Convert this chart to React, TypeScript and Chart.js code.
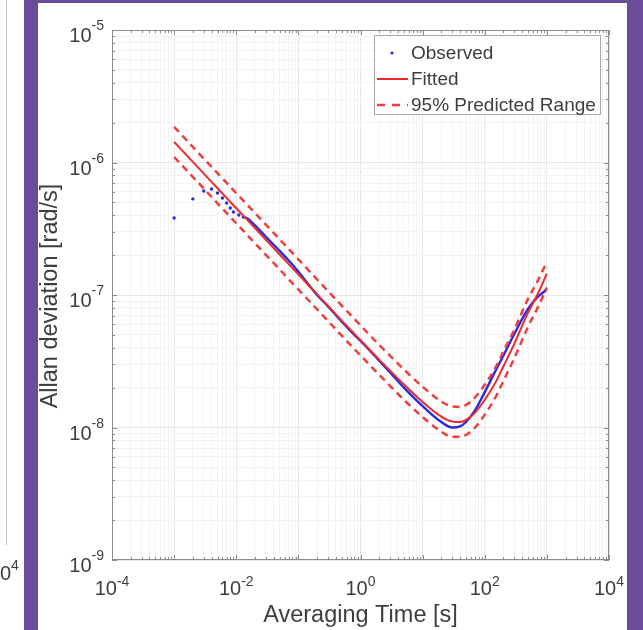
import React, { useEffect, useRef } from 'react';
import { Chart, registerables } from 'chart.js';
Chart.register(...registerables);

const W = 643;
const H = 630;
const PURPLE = '#6b4c9b';
const BOX = '#8c8c8c';
const TEXT = '#3e3e3e';
const BLUE = '#2a2ae0';
const RED = 'rgb(236,42,42)';
const RED_DASH = 'rgb(240,62,62)';
const FONT = '"Liberation Sans", Arial, Helvetica, sans-serif';

// Observed Allan deviation (first 11 samples drawn as separate dots)
const N_DOTS = 11;
const TAU_OBS = [0.001, 0.002, 0.003, 0.004, 0.005, 0.006, 0.007, 0.008, 0.009, 0.011, 0.013,
  0.015, 0.02, 0.03, 0.05, 0.07, 0.1, 0.15, 0.2, 0.3, 0.5, 0.7, 1, 2, 3, 5, 10, 20, 30, 40, 50, 70,
  100, 150, 200, 300, 500, 700, 1000];
const OBSERVED = [3.81e-7, 5.31e-7, 6.1e-7, 6.31e-7, 5.89e-7, 5.4e-7, 4.95e-7, 4.54e-7, 4.23e-7, 4.02e-7, 3.88e-7,
  3.8e-7, 3.35e-7, 2.75e-7, 2.15e-7, 1.82e-7, 1.5e-7, 1.18e-7, 1.0e-7, 8.2e-8, 6.3e-8, 5.3e-8, 4.5e-8, 3.2e-8, 2.6e-8,
  2.0e-8, 1.45e-8, 1.1e-8, 1.0e-8, 1.02e-8, 1.1e-8, 1.35e-8, 1.85e-8, 2.7e-8, 3.5e-8, 5.1e-8, 7.9e-8, 9.6e-8, 1.1e-7];

// Fitted model and 95% prediction range
const TAU_FIT = [0.001, 0.002, 0.005, 0.01, 0.02, 0.05, 0.1, 0.2, 0.5, 1, 2, 5, 10, 20, 30, 40, 50, 70, 100, 150, 200,
  300, 500, 700, 1000];
const FITTED = [1.43e-6, 1.01e-6, 6.39e-7, 4.52e-7, 3.2e-7, 2.02e-7, 1.43e-7, 1.01e-7, 6.4e-8, 4.55e-8, 3.25e-8,
  2.11e-8, 1.56e-8, 1.21e-8, 1.11e-8, 1.1e-8, 1.14e-8, 1.3e-8, 1.62e-8, 2.2e-8, 2.9e-8, 4.3e-8, 7.4e-8, 1.0e-7, 1.45e-7];
const UPPER = [1.86e-6, 1.31e-6, 8.3e-7, 5.88e-7, 4.16e-7, 2.63e-7, 1.86e-7, 1.31e-7, 8.3e-8, 5.9e-8, 4.2e-8,
  2.74e-8, 2.03e-8, 1.57e-8, 1.44e-8, 1.43e-8, 1.48e-8, 1.69e-8, 2.1e-8, 2.85e-8, 3.75e-8, 5.5e-8, 9.4e-8, 1.26e-7, 1.78e-7];
const LOWER = [1.1e-6, 7.8e-7, 4.92e-7, 3.48e-7, 2.46e-7, 1.56e-7, 1.1e-7, 7.8e-8, 4.93e-8, 3.5e-8, 2.5e-8,
  1.62e-8, 1.2e-8, 9.3e-9, 8.5e-9, 8.5e-9, 8.8e-9, 1.0e-8, 1.25e-8, 1.7e-8, 2.25e-8, 3.35e-8, 5.8e-8, 7.9e-8, 1.14e-7];

const X_MIN = 1e-4;
const X_MAX = 1e4;
const Y_MIN = 1e-9;
const Y_MAX = 1e-5;
const X_TICK_EXP = [-4, -2, 0, 2, 4];
const Y_TICK_EXP = [-9, -8, -7, -6, -5];
const X_DECADES = [-4, -3, -2, -1, 0, 1, 2, 3];
const Y_DECADES = [-9, -8, -7, -6];
const MANTISSAS = [1, 2, 3, 4, 5, 6, 7, 8, 9];

const LEGEND_LABELS = ['Observed', 'Fitted', '95% Predicted Range'];
const X_TITLE = 'Averaging Time [s]';
const Y_TITLE = 'Allan deviation [rad/s]';

function gridValues(decades: number[], top: number) {
  const out: number[] = [];
  decades.forEach((d) => MANTISSAS.forEach((m) => out.push(m * Math.pow(10, d))));
  out.push(top);
  return out;
}
const GRID_X = gridValues(X_DECADES, X_MAX);
const GRID_Y = gridValues(Y_DECADES, Y_MAX);

function isMajor(v: number) {
  const l = Math.log10(v);
  return Math.abs(l - Math.round(l)) < 1e-6;
}

function pts(xs: number[], ys: number[]) {
  return xs.map((x, i) => ({ x, y: ys[i] }));
}

function drawPow(ctx: CanvasRenderingContext2D, exp: number, x: number, y: number, align: 'center' | 'right',
  baseSize: number, expSize: number, lift: number) {
  const expStr = exp < 0 ? '-' + Math.abs(exp) : String(exp);
  ctx.font = `${baseSize}px ${FONT}`;
  const w1 = ctx.measureText('10').width;
  ctx.font = `${expSize}px ${FONT}`;
  const w2 = ctx.measureText(expStr).width;
  const total = w1 + w2;
  const start = align === 'center' ? x - total / 2 : x - total;
  ctx.textAlign = 'left';
  ctx.textBaseline = 'alphabetic';
  ctx.font = `${baseSize}px ${FONT}`;
  ctx.fillText('10', start, y);
  ctx.font = `${expSize}px ${FONT}`;
  ctx.fillText(expStr, start + w1, y - lift);
}

const decorPlugin = {
  id: 'decor',
  beforeDraw(chart: any) {
    const ctx: CanvasRenderingContext2D = chart.ctx;
    ctx.save();
    ctx.fillStyle = PURPLE;
    ctx.fillRect(0, 0, W, H);
    ctx.fillStyle = '#ffffff';
    ctx.fillRect(0, 0, 24, H);
    ctx.fillRect(38, 3, 627 - 38, H - 3);
    // fragment of the neighbouring figure on the left
    ctx.strokeStyle = '#c4c4c4';
    ctx.lineWidth = 1;
    ctx.beginPath();
    ctx.moveTo(6.5, 0);
    ctx.lineTo(6.5, 545);
    ctx.stroke();
    ctx.fillStyle = TEXT;
    ctx.font = `20px ${FONT}`;
    ctx.textAlign = 'right';
    ctx.textBaseline = 'alphabetic';
    ctx.fillText('10', 11, 580);
    ctx.font = `14px ${FONT}`;
    ctx.textAlign = 'left';
    ctx.fillText('4', 11, 570);
    ctx.restore();
  },
  afterDraw(chart: any) {
    const ctx: CanvasRenderingContext2D = chart.ctx;
    const xs = chart.scales.x;
    const ys = chart.scales.y;
    const { left, right, top, bottom } = chart.chartArea;
    ctx.save();
    // box
    ctx.strokeStyle = BOX;
    ctx.lineWidth = 1;
    ctx.strokeRect(Math.round(left) + 0.5, Math.round(top) + 0.5, Math.round(right - left) - 1, Math.round(bottom - top) - 1);
    // inward tick marks on all four sides
    ctx.beginPath();
    GRID_X.forEach((v) => {
      const p = Math.round(xs.getPixelForValue(v)) + 0.5;
      const len = isMajor(v) ? 5 : 3;
      ctx.moveTo(p, bottom);
      ctx.lineTo(p, bottom - len);
      ctx.moveTo(p, top);
      ctx.lineTo(p, top + len);
    });
    GRID_Y.forEach((v) => {
      const p = Math.round(ys.getPixelForValue(v)) + 0.5;
      const len = isMajor(v) ? 5 : 3;
      ctx.moveTo(left, p);
      ctx.lineTo(left + len, p);
      ctx.moveTo(right, p);
      ctx.lineTo(right - len, p);
    });
    ctx.stroke();

    // tick labels
    ctx.fillStyle = TEXT;
    X_TICK_EXP.forEach((e) => {
      const p = xs.getPixelForValue(Math.pow(10, e));
      drawPow(ctx, e, p, 595, 'center', 20, 14, 9);
    });
    Y_TICK_EXP.forEach((e) => {
      const p = ys.getPixelForValue(Math.pow(10, e));
      drawPow(ctx, e, 104, p + 12, 'right', 20, 14, 12);
    });

    // axis titles
    ctx.font = `23.5px ${FONT}`;
    ctx.textAlign = 'center';
    ctx.textBaseline = 'alphabetic';
    ctx.fillText(X_TITLE, (left + right) / 2, 622);
    ctx.save();
    ctx.translate(57, (top + bottom) / 2 + 1);
    ctx.rotate(-Math.PI / 2);
    ctx.fillText(Y_TITLE, 0, 0);
    ctx.restore();

    // legend
    const lx = 374.5, ly = 35.5, lw = 226, lh = 79;
    ctx.fillStyle = '#ffffff';
    ctx.fillRect(lx, ly, lw, lh);
    ctx.strokeStyle = '#a8a8a8';
    ctx.lineWidth = 1;
    ctx.strokeRect(lx, ly, lw, lh);
    const rows = [53, 79, 105];
    // observed dot
    ctx.fillStyle = BLUE;
    ctx.beginPath();
    ctx.arc(392, rows[0], 1.6, 0, Math.PI * 2);
    ctx.fill();
    // fitted
    ctx.strokeStyle = RED;
    ctx.lineWidth = 2;
    ctx.beginPath();
    ctx.moveTo(377, rows[1]);
    ctx.lineTo(408, rows[1]);
    ctx.stroke();
    // range
    ctx.strokeStyle = RED_DASH;
    ctx.lineWidth = 2.5;
    ctx.setLineDash([8, 7]);
    ctx.beginPath();
    ctx.moveTo(377, rows[2]);
    ctx.lineTo(408, rows[2]);
    ctx.stroke();
    ctx.setLineDash([]);
    ctx.fillStyle = TEXT;
    ctx.font = `19px ${FONT}`;
    ctx.textAlign = 'left';
    ctx.textBaseline = 'middle';
    LEGEND_LABELS.forEach((t, i) => ctx.fillText(t, 411, rows[i] + 1));
    ctx.restore();
  },
};

export default function App() {
  const ref = useRef<HTMLCanvasElement | null>(null);
  useEffect(() => {
    if (!ref.current) return;
    const gridColor = (c: any) => (c.tick && isMajor(c.tick.value) ? '#e6e6e6' : '#f3f3f3');
    const chart = new Chart(ref.current, {
      type: 'line',
      data: {
        datasets: [
          {
            label: LEGEND_LABELS[1],
            data: pts(TAU_FIT, FITTED),
            borderColor: RED,
            borderWidth: 2,
            pointRadius: 0,
            cubicInterpolationMode: 'monotone',
            fill: false,
            order: 1,
          },
          {
            label: LEGEND_LABELS[2] + ' upper',
            data: pts(TAU_FIT, UPPER),
            borderColor: RED_DASH,
            borderWidth: 2.5,
            borderDash: [7, 5],
            pointRadius: 0,
            cubicInterpolationMode: 'monotone',
            fill: false,
            order: 2,
          },
          {
            label: LEGEND_LABELS[2] + ' lower',
            data: pts(TAU_FIT, LOWER),
            borderColor: RED_DASH,
            borderWidth: 2.5,
            borderDash: [7, 5],
            pointRadius: 0,
            cubicInterpolationMode: 'monotone',
            fill: false,
            order: 2,
          },
          {
            label: LEGEND_LABELS[0],
            data: pts(TAU_OBS, OBSERVED),
            borderColor: BLUE,
            borderWidth: 2.4,
            pointRadius: (c: any) => (c.dataIndex < N_DOTS ? 1.7 : 0),
            pointBackgroundColor: BLUE,
            pointBorderWidth: 0,
            cubicInterpolationMode: 'monotone',
            segment: {
              borderColor: (c: any) => (c.p0DataIndex < N_DOTS - 1 ? 'rgba(0,0,0,0)' : BLUE),
            },
            fill: false,
            order: 3,
          },
        ],
      },
      options: {
        responsive: false,
        animation: false,
        events: [],
        layout: { padding: { left: 112, top: 30, right: 34, bottom: 70 } },
        plugins: { legend: { display: false }, tooltip: { enabled: false }, title: { display: false } },
        scales: {
          x: {
            type: 'logarithmic',
            min: X_MIN,
            max: X_MAX,
            ticks: { display: false },
            grid: { drawTicks: false, color: gridColor, lineWidth: 1 },
            border: { display: false },
            afterBuildTicks: (s: any) => {
              s.ticks = GRID_X.map((v) => ({ value: v }));
            },
          },
          y: {
            type: 'logarithmic',
            min: Y_MIN,
            max: Y_MAX,
            ticks: { display: false },
            grid: { drawTicks: false, color: gridColor, lineWidth: 1 },
            border: { display: false },
            afterBuildTicks: (s: any) => {
              s.ticks = GRID_Y.map((v) => ({ value: v }));
            },
          },
        },
      },
      plugins: [decorPlugin],
    } as any);
    return () => chart.destroy();
  }, []);
  return (
    <div style={{ position: 'absolute', left: 0, top: 0, width: W, height: H }}>
      <canvas ref={ref} width={W} height={H} style={{ display: 'block' }} />
    </div>
  );
}
